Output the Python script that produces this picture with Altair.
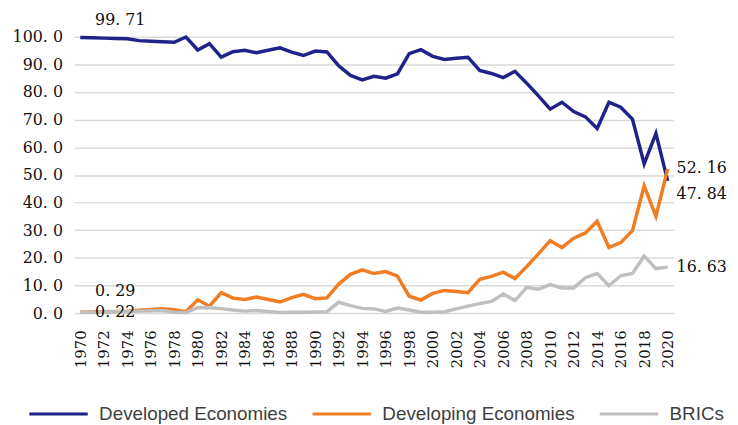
import altair as alt
import pandas as pd

years = list(range(1970, 2021))

developed = [99.71, 99.6, 99.5, 99.4, 99.3, 98.6, 98.4, 98.2, 98.0, 99.9,
             95.2, 97.5, 92.6, 94.6, 95.1, 94.2, 95.1, 96.0, 94.4, 93.2,
             94.8, 94.5, 89.5, 86.0, 84.4, 85.7, 85.0, 86.6, 93.9, 95.3,
             92.9, 91.8, 92.2, 92.6, 87.8, 86.7, 85.2, 87.5, 83.2, 78.6,
             73.8, 76.3, 72.9, 71.0, 66.8, 76.3, 74.5, 70.2, 54.0, 65.0,
             47.84]

developing = [0.29, 0.4, 0.5, 0.6, 0.7, 1.0, 1.3, 1.6, 1.2, 0.5,
              4.8, 2.5, 7.4, 5.4, 4.9, 5.8, 4.9, 4.0, 5.6, 6.8,
              5.2, 5.5, 10.5, 14.0, 15.6, 14.3, 15.0, 13.4, 6.1, 4.7,
              7.1, 8.2, 7.8, 7.4, 12.2, 13.3, 14.8, 12.5, 16.8, 21.4,
              26.2, 23.7, 27.1, 29.0, 33.2, 23.7, 25.5, 29.8, 46.0, 35.0,
              52.16]

brics = [0.22, 0.3, 0.4, 0.5, 0.6, 0.7, 0.8, 0.9, 0.3, 0.2,
         2.0, 1.9, 1.6, 1.1, 0.7, 0.9, 0.6, 0.2, 0.3, 0.3,
         0.4, 0.5, 3.9, 2.7, 1.7, 1.5, 0.6, 1.8, 1.1, 0.3,
         0.3, 0.5, 1.5, 2.5, 3.4, 4.2, 6.9, 4.5, 9.3, 8.6,
         10.3, 9.1, 9.1, 12.8, 14.3, 9.9, 13.5, 14.3, 20.6, 16.1,
         16.63]

series_names = ["Developed Economies", "Developing Economies", "BRICs"]
series_colors = ["#1F2289", "#F07D21", "#BFBFBF"]
year_ticks = list(range(1970, 2021, 2))
y_ticks = list(range(0, 101, 10))

rows = []
for name, vals in zip(series_names, [developed, developing, brics]):
    for y, v in zip(years, vals):
        rows.append({"series": name, "year": y, "value": v})
df = pd.DataFrame(rows)

SERIF = "DejaVu Serif"
SANS = "Liberation Sans"

x_enc = alt.X("year:O", scale=alt.Scale(type="point", padding=0.5),
              axis=alt.Axis(values=year_ticks, labelAngle=-90, title=None,
                            domain=False, ticks=False, grid=False,
                            labelFont=SERIF, labelFontSize=15, labelColor="#111111",
                            labelPadding=17))
y_enc = alt.Y("value:Q", scale=alt.Scale(domain=[0, 100], nice=False),
              axis=alt.Axis(values=y_ticks, title=None, domain=False, ticks=False,
                            gridColor="#D9D9D9", gridWidth=1.5,
                            labelExpr="replace(format(datum.value, '.1f'), '.', '. ')",
                            labelFont=SERIF, labelFontSize=16, labelColor="#111111",
                            labelPadding=12))

base = alt.Chart(df).encode(x=x_enc, y=y_enc)

lines = base.mark_line(strokeWidth=3.5).encode(
    color=alt.Color("series:N",
                    scale=alt.Scale(domain=series_names, range=series_colors),
                    sort=series_names,
                    legend=alt.Legend(title=None, orient="none", direction="horizontal",
                                      legendX=-47, legendY=350,
                                      symbolType="stroke", symbolSize=3481,
                                      symbolStrokeWidth=3,
                                      labelFont=SANS, labelFontSize=19,
                                      labelColor="#404040", labelOffset=10,
                                      labelLimit=400,
                                      columnPadding=18)),
    order=alt.Order("year:O"),
)

def label(series, year, dx, dy):
    return base.transform_filter(
        (alt.datum.series == series) & (alt.datum.year == year)
    ).transform_calculate(
        label="replace(format(datum.value, '.2f'), '.', '. ')"
    ).mark_text(align="left", baseline="middle", dx=dx, dy=dy,
                font=SERIF, fontSize=16, color="#111111").encode(text="label:N")

labels = [
    label("Developed Economies", 1970, 15, -18),
    label("Developing Economies", 1970, 15, -21),
    label("BRICs", 1970, 15, 0),
    label("Developing Economies", 2020, 9, -1),
    label("Developed Economies", 2020, 9, 13),
    label("BRICs", 2020, 9, 0),
]

chart = alt.layer(lines, *labels).properties(
    width=605, height=279,
    autosize=alt.AutoSizeParams(type="none"),
    padding={"left": 67, "top": 27, "right": 57, "bottom": 110},
).configure_view(stroke=None)

chart.save("out.html", embed_options={"renderer": "svg", "actions": False})
